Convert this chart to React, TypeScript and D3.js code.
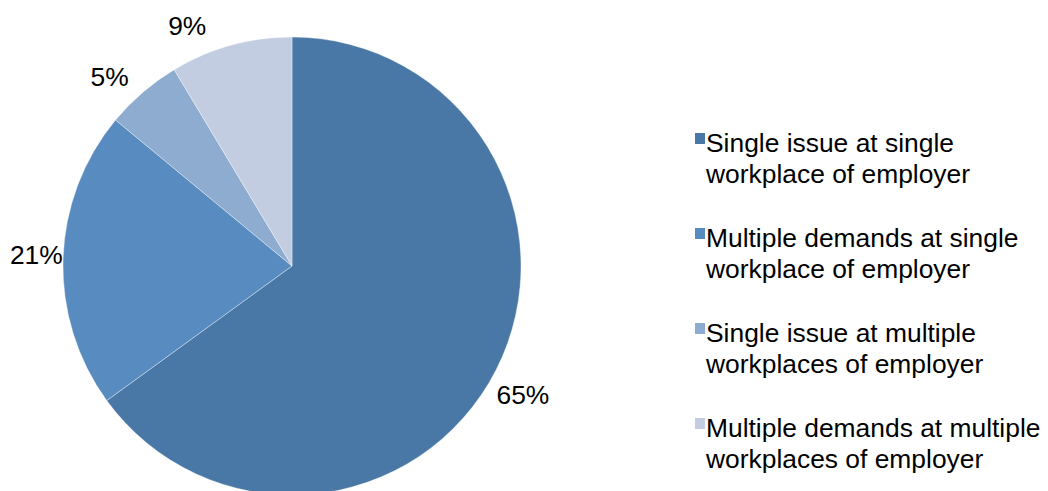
import React from "react";
import * as d3 from "d3";

const categories = [
  "Single issue at single workplace of employer",
  "Multiple demands at single workplace of employer",
  "Single issue at multiple workplaces of employer",
  "Multiple demands at multiple workplaces of employer",
];
const legendLines = [
  ["Single issue at single", "workplace of employer"],
  ["Multiple demands at single", "workplace of employer"],
  ["Single issue at multiple", "workplaces of employer"],
  ["Multiple demands at multiple", "workplaces of employer"],
];
const values = [65, 21, 5.4, 8.6];
const labels = ["65%", "21%", "5%", "9%"];
const colors = ["#4a78a6", "#588bbf", "#8eabd0", "#c3cde2"];

const W = 1048;
const H = 491;
const cx = 292;
const cy = 266;
const R = 229;
const FONT = "Liberation Sans, Arial, sans-serif";
const FS = 26.4;
// best-fit label placement tweaks (degrees / px), layout only
const labelAngleNudge = [2, 1, -3, -8];
const labelRadius = [264, 256, 264, 263];

export default function App() {
  const pie = d3.pie<number>().sort(null).value((d) => d);
  const arcs = pie(values);
  const arcGen = d3.arc<d3.PieArcDatum<number>>().innerRadius(0).outerRadius(R);

  const legendX = 695;
  const legendTop = 152;
  const groupGap = 95;
  const lineGap = 31;

  return (
    <svg width={W} height={H} style={{ position: "absolute", left: 0, top: 0 }} fontFamily={FONT}>
      <rect width={W} height={H} fill="#fff" />
      <g transform={`translate(${cx},${cy})`}>
        {arcs.map((a, i) => (
          <path key={i} d={arcGen(a) || ""} fill={colors[i]} stroke="#ffffff" strokeOpacity={0.6} strokeWidth={0.6} />
        ))}
        {arcs.map((a, i) => {
          const mid = (a.startAngle + a.endAngle) / 2 + (labelAngleNudge[i] * Math.PI) / 180;
          const r = labelRadius[i];
          const x = r * Math.sin(mid);
          const y = -r * Math.cos(mid);
          return (
            <text key={i} x={x} y={y + 10.5} textAnchor="middle" fontSize={FS} fill="#000">
              {labels[i]}
            </text>
          );
        })}
      </g>
      <g>
        {categories.map((c, i) => {
          const y0 = legendTop + i * groupGap;
          return (
            <g key={c}>
              <rect x={legendX} y={y0 - 19} width={10} height={11} fill={colors[i]} />
              {legendLines[i].map((ln, j) => (
                <text key={j} x={legendX + 11} y={y0 + j * lineGap} fontSize={FS} fill="#000">
                  {ln}
                </text>
              ))}
            </g>
          );
        })}
      </g>
    </svg>
  );
}
